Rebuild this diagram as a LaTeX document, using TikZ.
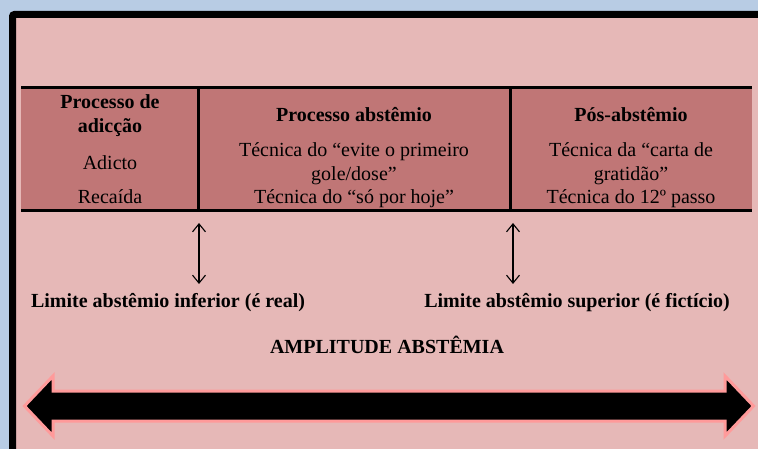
\documentclass[tikz,border=0pt]{standalone}
\usepackage{fontspec}
\setmainfont{LiberationSerif}[Extension=.ttf, UprightFont=*-Regular, BoldFont=*-Bold, ItalicFont=*-Italic, BoldItalicFont=*-BoldItalic]
\usetikzlibrary{arrows.meta}
\definecolor{bgblue}{HTML}{B8CCE4}
\definecolor{panelpink}{HTML}{E6B8B7}
\definecolor{tablerose}{HTML}{C07676}
\definecolor{arrowedge}{HTML}{FF9A9A}
\tikzset{
  txt/.style={anchor=base, inner sep=0pt, font=\rmfamily\fontsize{20}{22}\selectfont},
  btxt/.style={txt, font=\rmfamily\fontsize{20}{22}\selectfont\bfseries},
  rule/.style={line width=3pt, black},
  limarrow/.style={line width=1.1pt, {Straight Barb[length=8pt,width=13pt]}-{Straight Barb[length=8pt,width=13pt]}},
  bigarrow/.style={fill=black, draw=arrowedge, line width=3pt, line join=miter}
}
\begin{document}
\begin{tikzpicture}[x=1pt,y=-1pt]
\useasboundingbox (0,0) rectangle (758,449);
\fill[bgblue] (0,0) rectangle (758,449);
% panel with thick black frame
\draw[line width=7pt, fill=panelpink, rounded corners=2pt] (12.5,14.5) rectangle (790,480);
% table
\fill[tablerose] (21,88) rectangle (752,211);
\draw[rule] (21,88) -- (752,88);
\draw[rule] (21,211) -- (752,211);
\draw[rule] (198,88) -- (198,211);
\draw[rule] (510,88) -- (510,211);
% column 1
\node[btxt] (c1a) at (110,109) {Processo de};
\node[btxt] (c1b) at (110,133) {adicção};
\node[txt] (c1c) at (110,170) {Adicto};
\node[txt] (c1d) at (110,204) {Recaída};
% column 2
\node[btxt] (c2a) at (354,122) {Processo abstêmio};
\node[txt] (c2b) at (354,157) {Técnica do “evite o primeiro};
\node[txt] (c2c) at (354,181) {gole/dose”};
\node[txt] (c2d) at (354,204) {Técnica do “só por hoje”};
% column 3
\node[btxt] (c3a) at (631,122) {Pós-abstêmio};
\node[txt] (c3b) at (631,157) {Técnica da “carta de};
\node[txt] (c3c) at (631,181) {gratidão”};
\node[txt] (c3d) at (631,204) {Técnica do 12º passo};
% limit arrows
\coordinate (l1t) at (199,223);
\coordinate (l1b) at (199,284);
\coordinate (l2t) at (513,223);
\coordinate (l2b) at (513,284);
\draw[limarrow] (l1t) -- (l1b);
\draw[limarrow] (l2t) -- (l2b);
\node[btxt] (lim1) at (168,307) {Limite abstêmio inferior (é real)};
\node[btxt] (lim2) at (577,307) {Limite abstêmio superior (é fictício)};
\node[btxt] (ampl) at (387,353) {AMPLITUDE ABSTÊMIA};
% big double arrow
\draw[bigarrow] (24.5,406) -- (53,376) -- (53,391) -- (725,391) -- (725,376) -- (753.5,406)
  -- (725,436) -- (725,421) -- (53,421) -- (53,436) -- cycle;
\end{tikzpicture}
\end{document}
